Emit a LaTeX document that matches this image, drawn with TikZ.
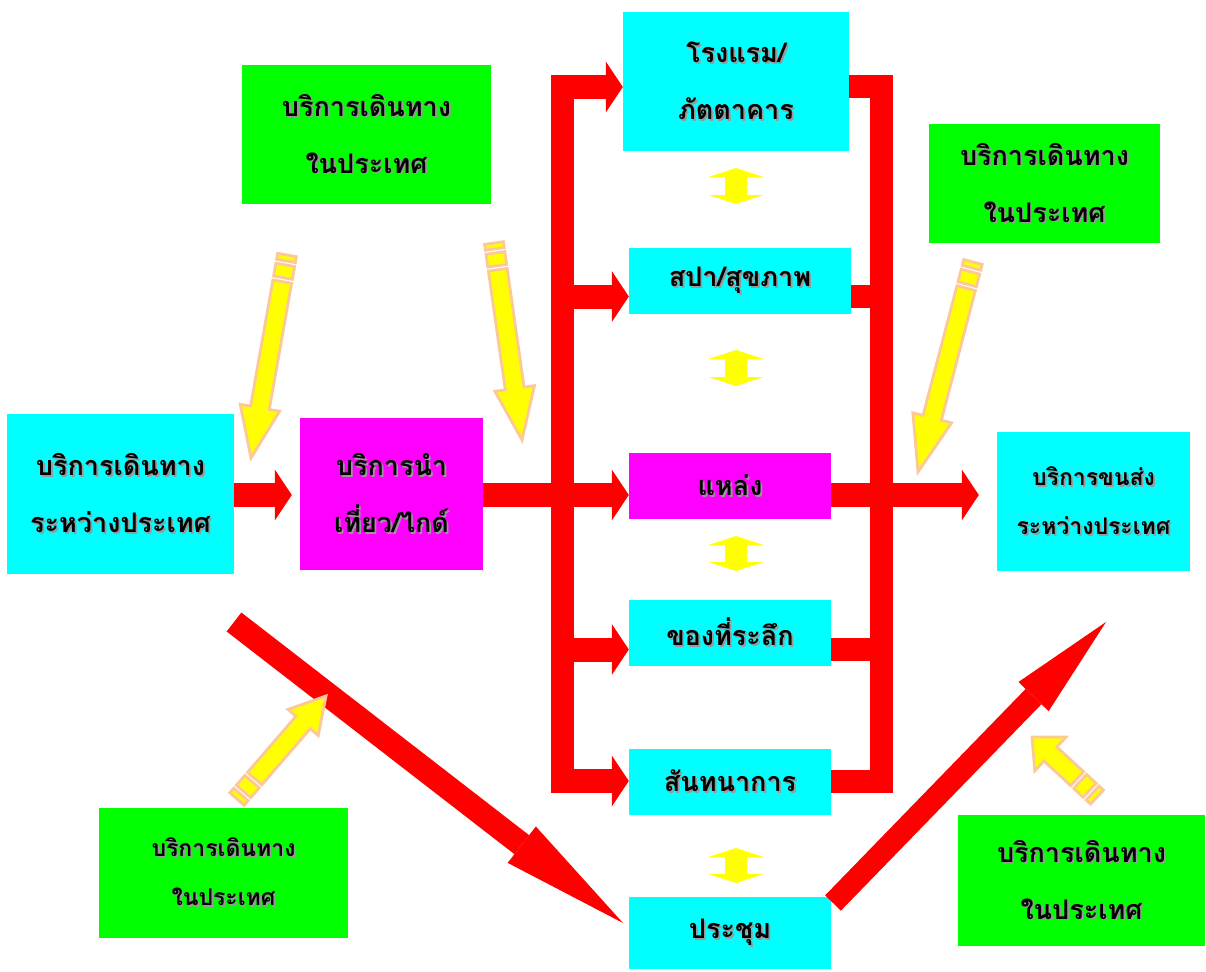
\documentclass[tikz,border=0pt]{standalone}
\usepackage{fontspec}
\newfontfamily\thai[Script=Thai]{Loma}
\usetikzlibrary{arrows.meta,calc}
\definecolor{cy}{RGB}{0,255,255}
\definecolor{mg}{RGB}{255,0,255}
\definecolor{gr}{RGB}{0,255,0}
\definecolor{ye}{RGB}{255,255,0}
\definecolor{peach}{RGB}{252,200,150}
\definecolor{rd}{RGB}{255,0,0}
\newcommand\shd[1]{\leavevmode\rlap{\kern1.8pt\raisebox{-1.8pt}{\color{black!40}#1}}#1}
\newcommand\pencil[4]{%
  \path let \p1=(#1),\p2=(#2) in \pgfextra{%
    \pgfmathsetmacro\pang{atan2(\y2-\y1,\x2-\x1)}%
    \pgfmathsetmacro\plen{veclen(\x2-\x1,\y2-\y1)}%
    \global\let\pang\pang\global\let\plen\plen};
  \begin{scope}[shift={(#1)},rotate=\pang,x=1pt,y=1pt]
    \draw[pencilst] (0,-9.5) rectangle (6,9.5);
    \draw[pencilst] (10,-9.5) rectangle (23,9.5);
    \draw[pencilst] (27,-9.5) -- ({\plen-#3},-9.5) -- ({\plen-#3},-#4) -- (\plen,0)
      -- ({\plen-#3},#4) -- ({\plen-#3},9.5) -- (27,9.5) -- cycle;
  \end{scope}}
\begin{document}
\begin{tikzpicture}[x=1pt,y=-1pt,
  box/.style={rectangle, inner sep=0pt, align=center,
    font=\thai\bfseries\fontsize{27}{57}\selectfont},
  small/.style={font=\thai\bfseries\fontsize{23}{49}\selectfont},
  cybox/.style={box, fill=cy},
  mgbox/.style={box, fill=mg},
  grbox/.style={box, fill=gr},
  redarr/.style={draw=rd, line width=24pt,
    -{Triangle[width=51pt,length=17pt,line width=0pt]}},
  redline/.style={draw=rd, line width=23pt},
  ydbl/.style={draw=ye, line width=22pt,
    {Triangle[width=55pt,length=9pt,line width=0pt]}-{Triangle[width=55pt,length=9pt,line width=0pt]}},
  pencilst/.style={fill=ye, draw=peach, line width=2.8pt, line join=miter}]
\useasboundingbox (0,0) rectangle (1206,971);

% boxes
\node[cybox, minimum width=226pt, minimum height=139pt] (hotel) at (736,81.5) {\shd{โรงแรม/}\\\shd{ภัตตาคาร}};
\node[grbox, minimum width=249pt, minimum height=139pt] (gTL) at (366.5,134.5) {\shd{บริการเดินทาง}\\\shd{ในประเทศ}};
\node[grbox, minimum width=231pt, minimum height=119pt] (gTR) at (1044.5,183.5) {\shd{บริการเดินทาง}\\\shd{ในประเทศ}};
\node[cybox, minimum width=222pt, minimum height=66pt] (spa) at (740,281) {\shd{สปา/สุขภาพ}};
\node[cybox, minimum width=227pt, minimum height=160pt] (lcy) at (120.5,494) {\shd{บริการเดินทาง}\\\shd{ระหว่างประเทศ}};
\node[mgbox, minimum width=183pt, minimum height=152pt] (guide) at (391.5,494) {\shd{บริการนำ}\\\shd{เที่ยว/ไกด์}};
\node[mgbox, minimum width=202pt, minimum height=66pt] (src) at (730,486) {\shd{แหล่ง}};
\node[cybox, small, minimum width=193pt, minimum height=139pt] (rcy) at (1093.5,501.5) {\shd{บริการขนส่ง}\\\shd{ระหว่างประเทศ}};
\node[cybox, minimum width=202pt, minimum height=66pt] (souv) at (730,633) {\shd{ของที่ระลึก}};
\node[cybox, minimum width=202pt, minimum height=66pt] (conf) at (730,782) {\shd{สันทนาการ}};
\node[cybox, minimum width=202pt, minimum height=72pt] (meet) at (730,933) {\shd{ประชุม}};
\node[grbox, small, minimum width=249pt, minimum height=130pt] (gBL) at (223.5,873) {\shd{บริการเดินทาง}\\\shd{ในประเทศ}};
\node[grbox, minimum width=247pt, minimum height=131pt] (gBR) at (1081.5,880.5) {\shd{บริการเดินทาง}\\\shd{ในประเทศ}};

% bus coordinates
\coordinate (L1) at (562,87);
\coordinate (L2) at (562,296.5);
\coordinate (L3) at (562,495);
\coordinate (L4) at (562,649.5);
\coordinate (L5) at (562,781);
\coordinate (R1) at (881,87);
\coordinate (R2) at (881,296.5);
\coordinate (R4) at (881,649.5);
\coordinate (R5) at (881,781.5);

% left bus
\draw[redline, line cap=rect] (L1) -- (L5);
\draw[redarr] (L1) -- (L1 -| hotel.west);
\draw[redarr] (L2) -- (L2 -| spa.west);
\draw[redarr] (L4) -- (L4 -| souv.west);
\draw[redarr] (L5) -- (L5 -| conf.west);
% right bus
\draw[redline, line join=miter] (R1 -| hotel.east) -- (R1) -- (R5) -- (R5 -| conf.east);
\draw[redline] (R2 -| spa.east) -- (R2);
\draw[redline] (R4 -| souv.east) -- (R4);
% main row
\draw[redarr] (L3 -| lcy.east) -- ([xshift=-8pt]L3 -| guide.west);
\draw[redarr] (L3 -| guide.east) -- (L3 -| src.west);
\draw[redarr] (L3 -| src.east) -- ([xshift=-18pt]L3 -| rcy.west);
% diagonals
\coordinate (d1s) at (234,622);
\coordinate (d1e) at (623,923);
\coordinate (d2s) at (833,903);
\coordinate (d2e) at (1106,622);
\draw[draw=rd, line width=24pt, -{Triangle[width=46pt,length=128pt,line width=0pt]}] (d1s) -- (d1e);
\draw[draw=rd, line width=22pt, -{Triangle[width=42pt,length=104pt,line width=0pt]}] (d2s) -- (d2e);

% yellow double arrows
\coordinate (y1a) at (736,168); \coordinate (y1b) at (736,204);
\coordinate (y2a) at (736,350); \coordinate (y2b) at (736,386);
\coordinate (y3a) at (736,536); \coordinate (y3b) at (736,571);
\coordinate (y4a) at (736,848); \coordinate (y4b) at (736,883);
\draw[ydbl] (y1a) -- (y1b);
\draw[ydbl] (y2a) -- (y2b);
\draw[ydbl] (y3a) -- (y3b);
\draw[ydbl] (y4a) -- (y4b);

% pencil arrows
\pencil{287,255}{251,458}{51}{20}
\pencil{494,243}{522,440}{52}{20}
\pencil{973,262}{918,472}{56}{20}
\pencil{237,799}{326,696}{35}{20}
\pencil{1097,797}{1032,737}{25}{23}
\end{tikzpicture}
\end{document}
